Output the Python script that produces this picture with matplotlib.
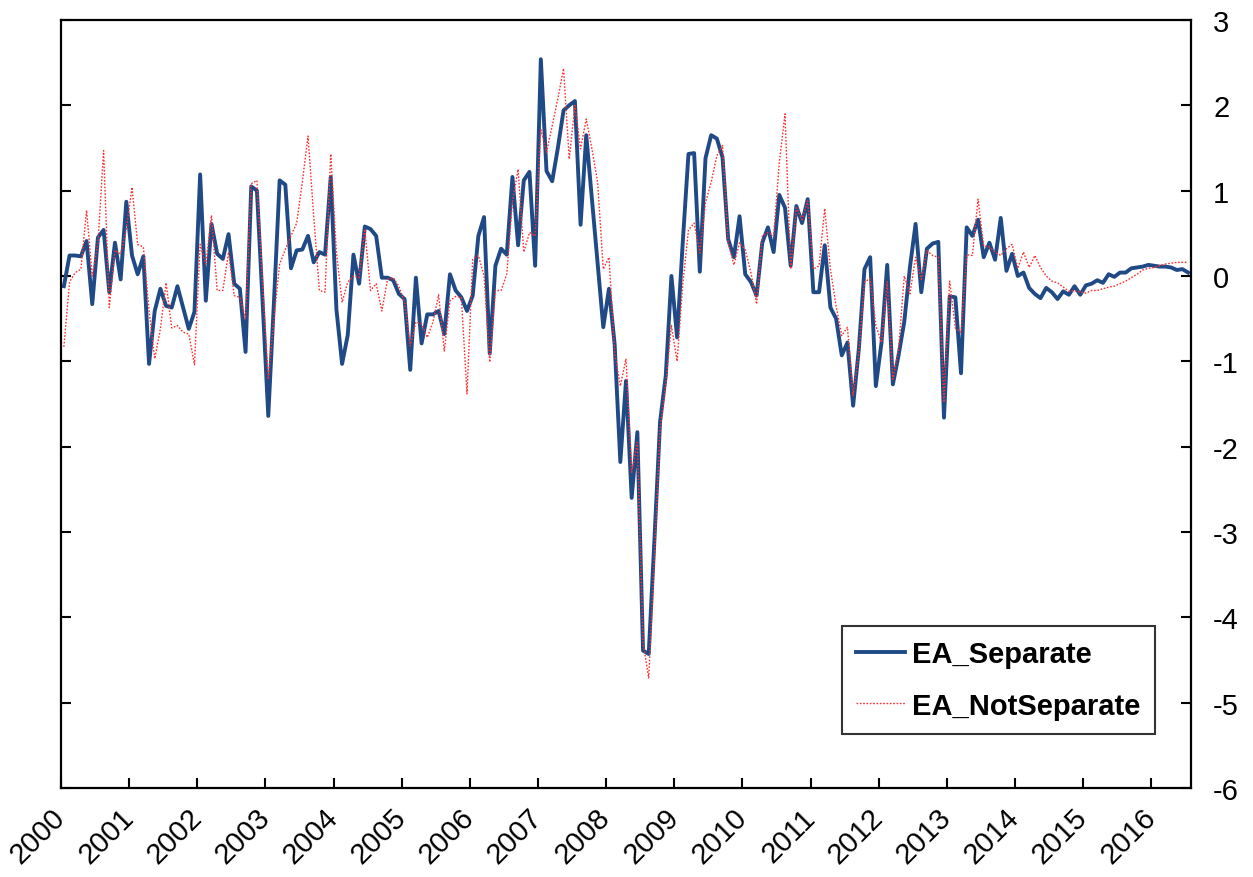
import matplotlib
matplotlib.use("Agg")
import matplotlib.pyplot as plt
import numpy as np

plt.rcParams['font.family'] = ['Liberation Sans', 'DejaVu Sans']
plt.rcParams['axes.unicode_minus'] = False

# Monthly series, Jan 2000 - Jul 2016
ea_separate = [
    -0.12, 0.24, 0.24, 0.23, 0.41, -0.33, 0.45, 0.54, -0.19, 0.39, -0.04, 0.87,   # 2000
    0.24, 0.02, 0.23, -1.03, -0.41, -0.15, -0.35, -0.37, -0.12, -0.37, -0.62, -0.42,  # 2001
    1.19, -0.29, 0.61, 0.26, 0.20, 0.49, -0.09, -0.15, -0.89, 1.05, 1.00, -0.30,  # 2002
    -1.64, -0.30, 1.12, 1.07, 0.09, 0.30, 0.31, 0.47, 0.16, 0.28, 0.25, 1.16,  # 2003
    -0.39, -1.03, -0.69, 0.25, -0.09, 0.58, 0.55, 0.47, -0.02, -0.02, -0.05, -0.21,  # 2004
    -0.27, -1.10, -0.02, -0.79, -0.45, -0.45, -0.41, -0.68, 0.02, -0.17, -0.25, -0.41,  # 2005
    -0.23, 0.47, 0.69, -0.91, 0.12, 0.32, 0.25, 1.16, 0.36, 1.12, 1.22, 0.12,  # 2006
    2.54, 1.23, 1.11, 1.50, 1.94, 2.00, 2.05, 0.60, 1.65, 0.90, 0.16, -0.60,  # 2007
    -0.15, -0.80, -2.18, -1.23, -2.60, -1.83, -4.39, -4.43, -3.10, -1.71, -1.17, 0.00,  # 2008
    -0.72, 0.40, 1.43, 1.44, 0.05, 1.38, 1.65, 1.61, 1.39, 0.43, 0.22, 0.70,  # 2009
    0.02, -0.07, -0.23, 0.39, 0.57, 0.28, 0.95, 0.80, 0.12, 0.82, 0.62, 0.90,  # 2010
    -0.19, -0.19, 0.36, -0.37, -0.50, -0.93, -0.78, -1.52, -0.86, 0.08, 0.22, -1.29,  # 2011
    -0.78, 0.13, -1.27, -0.93, -0.54, 0.10, 0.61, -0.19, 0.32, 0.38, 0.40, -1.66,  # 2012
    -0.24, -0.25, -1.14, 0.57, 0.47, 0.66, 0.22, 0.39, 0.19, 0.68, 0.06, 0.26,  # 2013
    0.00, 0.04, -0.14, -0.21, -0.26, -0.14, -0.19, -0.27, -0.18, -0.22, -0.12, -0.22,  # 2014
    -0.11, -0.09, -0.05, -0.08, 0.02, -0.01, 0.04, 0.04, 0.09, 0.10, 0.11, 0.13,  # 2015
    0.12, 0.11, 0.11, 0.10, 0.07, 0.08, 0.04,  # 2016
]

ea_notseparate = [
    -0.83, -0.07, 0.04, 0.08, 0.77, 0.00, 0.38, 1.47, -0.37, 0.30, 0.26, 0.55,  # 2000
    1.04, 0.37, 0.34, -0.40, -0.97, -0.62, -0.08, -0.61, -0.58, -0.66, -0.68, -1.04,  # 2001
    0.37, 0.14, 0.71, -0.17, -0.17, 0.28, -0.23, -0.25, -0.50, 1.08, 1.12, -0.10,  # 2002
    -1.21, -0.50, 0.14, 0.31, 0.47, 0.62, 1.10, 1.64, 0.70, -0.17, -0.19, 1.43,  # 2003
    0.28, -0.31, -0.07, 0.00, -0.02, 0.55, -0.17, -0.09, -0.41, -0.04, -0.02, -0.12,  # 2004
    -0.31, -0.82, -0.54, -0.56, -0.72, -0.54, -0.22, -0.88, -0.29, -0.24, -0.25, -1.38,  # 2005
    0.20, 0.24, 0.00, -1.01, -0.17, -0.17, 0.02, 0.87, 1.25, 0.28, 0.51, 0.47,  # 2006
    1.72, 1.45, 1.76, 2.08, 2.43, 1.37, 2.00, 1.49, 1.84, 1.49, 1.10, 0.08,  # 2007
    0.22, -0.90, -1.29, -0.97, -2.30, -1.95, -4.30, -4.71, -3.30, -1.80, -1.26, -0.58,  # 2008
    -1.00, -0.10, 0.54, 0.62, 0.27, 0.86, 1.10, 1.41, 1.53, 0.39, 0.13, 0.39,  # 2009
    0.31, 0.04, -0.33, 0.47, 0.51, 0.47, 1.33, 1.90, 0.08, 0.80, 0.66, 0.88,  # 2010
    0.08, 0.12, 0.79, 0.08, -0.35, -0.70, -0.60, -1.40, -0.90, -0.07, -0.03, -0.58,  # 2011
    -0.78, -0.07, -1.21, -0.86, 0.00, -0.21, 0.22, -0.04, 0.30, 0.24, 0.22, -1.48,  # 2012
    -0.06, -0.61, -0.66, 0.25, 0.24, 0.90, 0.35, 0.34, 0.28, 0.24, 0.32, 0.37,  # 2013
    0.09, 0.28, 0.10, 0.24, 0.10, 0.00, -0.06, -0.08, -0.13, -0.18, -0.17, -0.19,  # 2014
    -0.20, -0.17, -0.17, -0.15, -0.13, -0.12, -0.09, -0.06, -0.02, 0.02, 0.07, 0.09,  # 2015
    0.10, 0.12, 0.14, 0.15, 0.16, 0.16, 0.16,  # 2016
]

years = [str(y) for y in range(2000, 2017)]

n = len(ea_separate)
x = np.arange(n) + 0.5  # points sit between month boundaries

fig = plt.figure(figsize=(12.53, 8.78), dpi=100)
ax = fig.add_axes([0.0487, 0.1014, 0.9018, 0.8747])

ax.plot(x, ea_separate, color='#1f4a86', lw=2.8, label='EA_Separate', zorder=2)
ax.plot(x, ea_notseparate, color='#ff3030', lw=1.0, ls=(0, (1.2, 1.2)),
        label='EA_NotSeparate', zorder=3)

ax.set_xlim(0, n)
ax.set_ylim(-6, 3)

# year ticks every 12 months
ax.set_xticks(np.arange(len(years)) * 12)
ax.set_xticklabels(years, rotation=45, ha='right', va='center',
                   rotation_mode='anchor', fontsize=21)
ax.set_yticks(range(-6, 4))
ax.yaxis.tick_right()
ax.tick_params(axis='y', which='both', left=True, right=True, direction='in',
               length=7, width=1.5, labelsize=21, pad=16)
ax.tick_params(axis='x', direction='in', length=7, width=1.5, pad=18)

for s in ax.spines.values():
    s.set_linewidth(1.6)

leg = ax.legend(loc='lower right', bbox_to_anchor=(0.968, 0.07),
                prop={'weight': 'bold', 'size': 21}, frameon=True,
                fancybox=False, edgecolor='black', handlelength=1.65,
                handletextpad=0.25, labelspacing=0.8, borderpad=0.5,
                borderaxespad=0)
leg.get_frame().set_linewidth(1.5)

fig.savefig('out.png', dpi=100)
